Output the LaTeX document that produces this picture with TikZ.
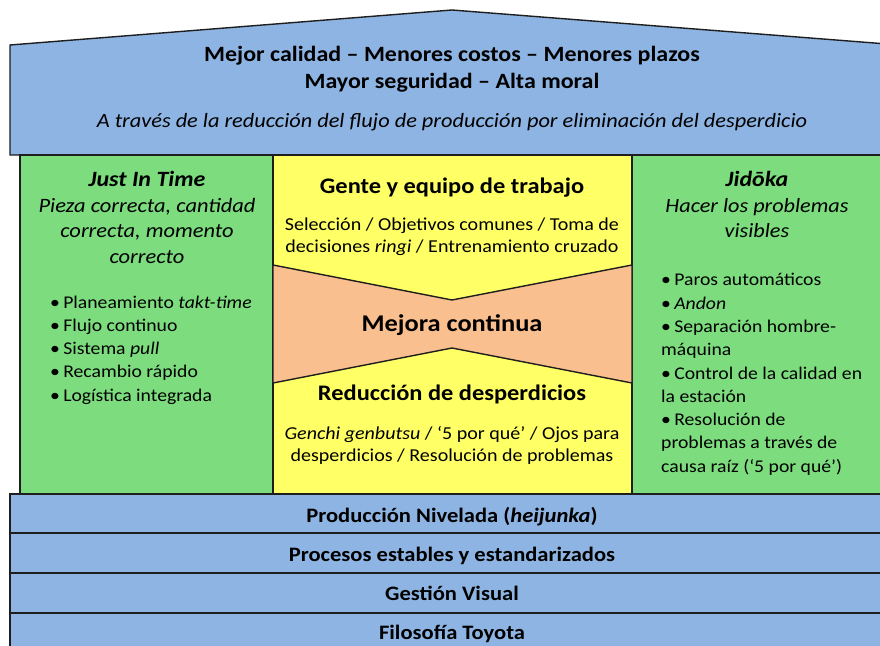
\documentclass[tikz,border=0pt]{standalone}
\usepackage{graphicx}
\usepackage{fontspec}
\setmainfont{Carlito}
\definecolor{roofblue}{RGB}{141,180,226}
\definecolor{pillgreen}{RGB}{124,220,126}
\definecolor{centyellow}{RGB}{255,255,102}
\definecolor{boworange}{RGB}{250,191,143}
\definecolor{edge}{RGB}{30,30,30}
\tikzset{
  part/.style={draw=edge,line width=1.4pt,line join=miter},
  txt/.style={inner sep=0pt,anchor=mid,align=center},
  ltxt/.style={inner sep=0pt,anchor=mid west},
}
\newcommand{\fsz}[2]{\fontsize{#1}{#2}\selectfont}
\newcommand{\stretchtxt}[1]{\scalebox{1.1}[1]{#1}}
\begin{document}
\begin{tikzpicture}[x=1pt,y=-1pt]
\useasboundingbox (0,0) rectangle (880,645);
\clip (0,0) rectangle (880,645);
% roof
\draw[part,fill=roofblue] (10,45) -- (452,10) -- (900,45) -- (900,155) -- (10,155) -- cycle;
% pillars
\draw[part,fill=pillgreen] (20,155) rectangle (273,494);
\draw[part,fill=centyellow] (273,155) rectangle (632,494);
\draw[part,fill=pillgreen] (632,155) rectangle (900,494);
% bow-tie
\draw[part,fill=boworange] (273,265) -- (452,300) -- (632,265) -- (632,383) -- (452,348) -- (273,383) -- cycle;
% bars
\draw[part,fill=roofblue] (10,494) rectangle (900,533);
\draw[part,fill=roofblue] (10,533) rectangle (900,573);
\draw[part,fill=roofblue] (10,573) rectangle (900,613);
\draw[part,fill=roofblue] (10,613) rectangle (900,660);

% roof text
\node[txt,font=\fsz{21.8}{26}\bfseries] (r1) at (452,59.5) {\stretchtxt{Mejor calidad – Menores costos – Menores plazos}};
\node[txt,font=\fsz{21.8}{26}\bfseries] (r2) at (452,86.5) {\stretchtxt{Mayor seguridad – Alta moral}};
\node[txt,font=\fsz{20.3}{24}\itshape] (r3) at (452,125.5) {\stretchtxt{A través de la reducción del flujo de producción por eliminación del desperdicio}};

% left pillar
\node[txt,font=\fsz{21.8}{25}\bfseries\itshape] (l0) at (147,184) {\stretchtxt{Just In Time}};
\node[txt,font=\fsz{20.4}{25}\itshape] (l1) at (147,210) {\stretchtxt{Pieza correcta, cantidad}};
\node[txt,font=\fsz{20.4}{25}\itshape] (l2) at (147,235) {\stretchtxt{correcta, momento}};
\node[txt,font=\fsz{20.4}{25}\itshape] (l3) at (147,261) {\stretchtxt{correcto}};
\foreach \t [count=\i] in {{Planeamiento \textit{takt-time}},{Flujo continuo},{Sistema \textit{pull}},{Recambio rápido},{Logística integrada}}
  \node[ltxt,font=\fsz{17.9}{23}] (lb\i) at (50,{306+23.2*(\i-1)}) {\stretchtxt{•\,\t}};

% center
\node[txt,font=\fsz{22.2}{25}\bfseries] (c1) at (452,191) {\stretchtxt{Gente y equipo de trabajo}};
\node[txt,font=\fsz{18.2}{22}] (c2) at (452,228) {\stretchtxt{Selección / Objetivos comunes / Toma de}};
\node[txt,font=\fsz{18.2}{22}] (c3) at (452,250) {\stretchtxt{decisiones \textit{ringi} / Entrenamiento cruzado}};
\node[txt,font=\fsz{24}{26}\bfseries] (c4) at (452,329) {\stretchtxt{Mejora continua}};
\node[txt,font=\fsz{22.2}{25}\bfseries] (c5) at (452,398) {\stretchtxt{Reducción de desperdicios}};
\node[txt,font=\fsz{18.2}{22}] (c6) at (452,437) {\stretchtxt{\textit{Genchi genbutsu} / ‘5 por qué’ / Ojos para}};
\node[txt,font=\fsz{18.2}{22}] (c7) at (452,459) {\stretchtxt{desperdicios / Resolución de problemas}};

% right pillar
\node[txt,font=\fsz{21.8}{25}\bfseries\itshape] (j0) at (757,184) {\stretchtxt{Jidōka}};
\node[txt,font=\fsz{20.2}{25}\itshape] (j1) at (757,210) {\stretchtxt{Hacer los problemas}};
\node[txt,font=\fsz{20.2}{25}\itshape] (j2) at (757,235) {\stretchtxt{visibles}};
\foreach \t [count=\i] in {{•\,Paros automáticos},{•\,\textit{Andon}},{•\,Separación hombre-},{máquina},{•\,Control de la calidad en},{la estación},{•\,Resolución de},{problemas a través de},{causa raíz (‘5 por qué’)}}
  \node[ltxt,font=\fsz{17.9}{23}] (jb\i) at (661,{283.5+23.3*(\i-1)}) {\stretchtxt{\t}};

% bars
\node[txt,font=\fsz{20.5}{24}\bfseries] (b1) at (452,520.5) {\stretchtxt{Producción Nivelada (\textit{heijunka})}};
\node[txt,font=\fsz{20.5}{24}\bfseries] (b2) at (452,559.5) {\stretchtxt{Procesos estables y estandarizados}};
\node[txt,font=\fsz{20.5}{24}\bfseries] (b3) at (452,598.5) {\stretchtxt{Gestión Visual}};
\node[txt,font=\fsz{20.5}{24}\bfseries] (b4) at (452,637.5) {\stretchtxt{Filosofía Toyota}};
\end{tikzpicture}
\end{document}
